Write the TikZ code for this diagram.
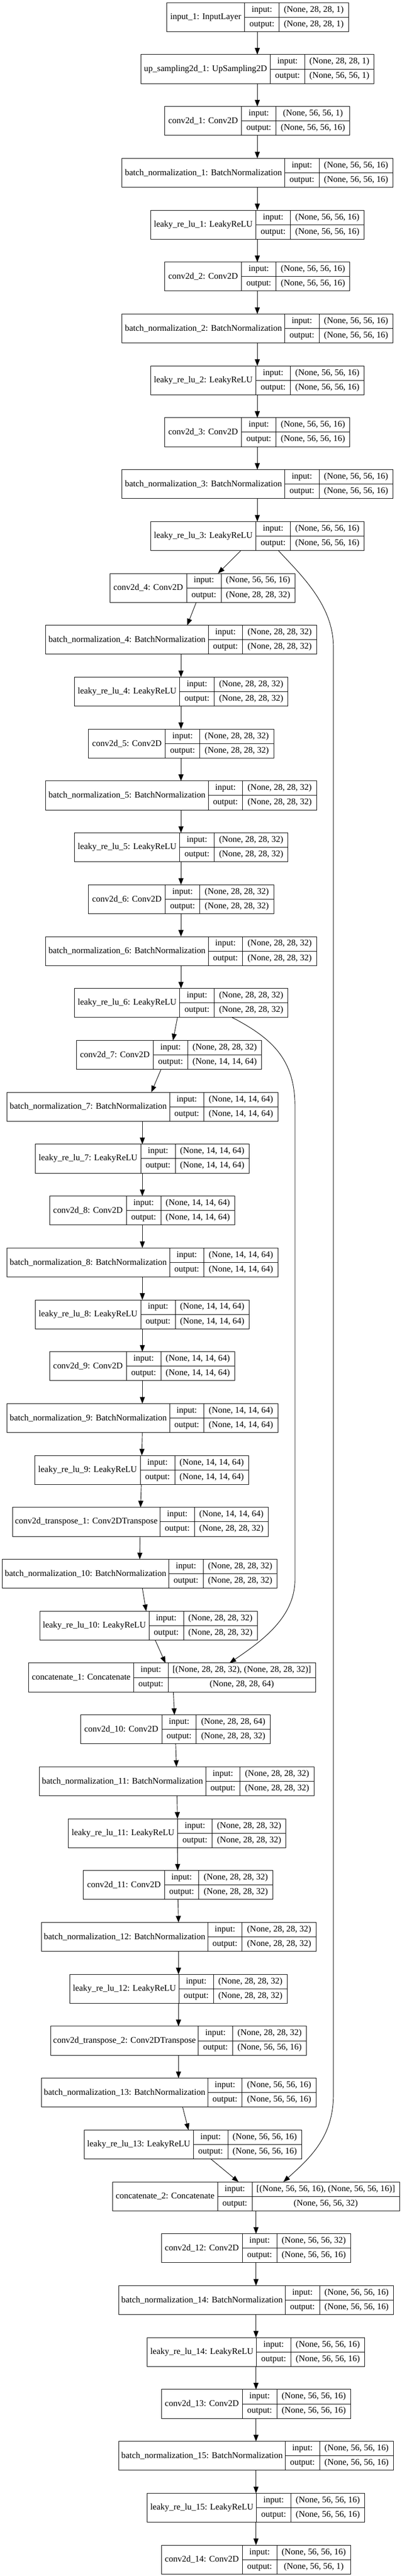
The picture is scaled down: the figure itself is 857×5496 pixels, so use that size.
\documentclass[tikz,border=0pt]{standalone}
\usepackage{fontspec}
\setmainfont{Liberation Serif}
\usetikzlibrary{arrows.meta}

\newcommand{\layerfont}{\fontsize{14pt}{16pt}\selectfont}

\tikzset{
  namecell/.style={draw, line width=0.75pt, anchor=north west, minimum height=46.3pt,
    inner sep=0pt, outer sep=0pt, font=\layerfont},
  iocell/.style={draw, line width=0.75pt, anchor=north west, minimum width=55.1pt,
    minimum height=23.15pt, inner sep=0pt, outer sep=0pt, font=\layerfont,
    text height=9.5pt, text depth=3pt},
  shapecell/.style={iocell, minimum width=0pt},
  edge/.style={-{Triangle[length=10.5pt,width=8pt]}, line width=0.75pt}
}

% one keras layer: name, left x, row, name width, shape width, label, input, output
\newcommand{\layer}[8]{%
  \node[namecell, minimum width={#4*0.75pt}] (#1) at (#2,{5.7+#3*110.7}) {#6};
  \node[iocell] (#1-i) at (#1.north east) {input:};
  \node[iocell] (#1-o) at (#1-i.south west) {output:};
  \node[shapecell, minimum width={#5*0.75pt}] (#1-a) at (#1-i.north east) {#7};
  \node[shapecell, minimum width={#5*0.75pt}] (#1-b) at (#1-o.north east) {#8};
}

\begin{document}
\begin{tikzpicture}[x=0.75pt,y=-0.75pt]
\useasboundingbox (0,0) rectangle (857,5496);

% encoder, 56x56
\layer{inp}{355.6}{0}{166.3}{147.7}{input\_1: InputLayer}{(None, 28, 28, 1)}{(None, 28, 28, 1)}
\layer{up1}{300.3}{1}{276.2}{147.7}{up\_sampling2d\_1: UpSampling2D}{(None, 28, 28, 1)}{(None, 56, 56, 1)}
\layer{conv1}{351.2}{2}{164}{157.5}{conv2d\_1: Conv2D}{(None, 56, 56, 1)}{(None, 56, 56, 16)}
\layer{bn1}{260.4}{3}{346.8}{157.5}{batch\_normalization\_1: BatchNormalization}{(None, 56, 56, 16)}{(None, 56, 56, 16)}
\layer{lrelu1}{321.1}{4}{224.8}{157.5}{leaky\_re\_lu\_1: LeakyReLU}{(None, 56, 56, 16)}{(None, 56, 56, 16)}
\layer{conv2}{351.2}{5}{164}{157.5}{conv2d\_2: Conv2D}{(None, 56, 56, 16)}{(None, 56, 56, 16)}
\layer{bn2}{260.4}{6}{346.8}{157.5}{batch\_normalization\_2: BatchNormalization}{(None, 56, 56, 16)}{(None, 56, 56, 16)}
\layer{lrelu2}{321.1}{7}{224.8}{157.5}{leaky\_re\_lu\_2: LeakyReLU}{(None, 56, 56, 16)}{(None, 56, 56, 16)}
\layer{conv3}{351.2}{8}{164}{157.5}{conv2d\_3: Conv2D}{(None, 56, 56, 16)}{(None, 56, 56, 16)}
\layer{bn3}{260.4}{9}{346.8}{157.5}{batch\_normalization\_3: BatchNormalization}{(None, 56, 56, 16)}{(None, 56, 56, 16)}
\layer{lrelu3}{321.1}{10}{224.8}{157.5}{leaky\_re\_lu\_3: LeakyReLU}{(None, 56, 56, 16)}{(None, 56, 56, 16)}

% 28x28
\layer{conv4}{234.1}{11}{164}{157.5}{conv2d\_4: Conv2D}{(None, 56, 56, 16)}{(None, 28, 28, 32)}
\layer{bn4}{97.4}{12}{346.8}{157.5}{batch\_normalization\_4: BatchNormalization}{(None, 28, 28, 32)}{(None, 28, 28, 32)}
\layer{lrelu4}{158.6}{13}{224.8}{157.5}{leaky\_re\_lu\_4: LeakyReLU}{(None, 28, 28, 32)}{(None, 28, 28, 32)}
\layer{conv5}{188.7}{14}{164}{157.5}{conv2d\_5: Conv2D}{(None, 28, 28, 32)}{(None, 28, 28, 32)}
\layer{bn5}{97.4}{15}{346.8}{157.5}{batch\_normalization\_5: BatchNormalization}{(None, 28, 28, 32)}{(None, 28, 28, 32)}
\layer{lrelu5}{158.6}{16}{224.8}{157.5}{leaky\_re\_lu\_5: LeakyReLU}{(None, 28, 28, 32)}{(None, 28, 28, 32)}
\layer{conv6}{188.7}{17}{164}{157.5}{conv2d\_6: Conv2D}{(None, 28, 28, 32)}{(None, 28, 28, 32)}
\layer{bn6}{97.4}{18}{346.8}{157.5}{batch\_normalization\_6: BatchNormalization}{(None, 28, 28, 32)}{(None, 28, 28, 32)}
\layer{lrelu6}{158.6}{19}{224.8}{157.5}{leaky\_re\_lu\_6: LeakyReLU}{(None, 28, 28, 32)}{(None, 28, 28, 32)}

% 14x14
\layer{conv7}{163}{20}{164}{157.5}{conv2d\_7: Conv2D}{(None, 28, 28, 32)}{(None, 14, 14, 64)}
\layer{bn7}{14.8}{21}{346.8}{157.5}{batch\_normalization\_7: BatchNormalization}{(None, 14, 14, 64)}{(None, 14, 14, 64)}
\layer{lrelu7}{75.5}{22}{224.8}{157.5}{leaky\_re\_lu\_7: LeakyReLU}{(None, 14, 14, 64)}{(None, 14, 14, 64)}
\layer{conv8}{105.6}{23}{164}{157.5}{conv2d\_8: Conv2D}{(None, 14, 14, 64)}{(None, 14, 14, 64)}
\layer{bn8}{14.8}{24}{346.8}{157.5}{batch\_normalization\_8: BatchNormalization}{(None, 14, 14, 64)}{(None, 14, 14, 64)}
\layer{lrelu8}{75.5}{25}{224.8}{157.5}{leaky\_re\_lu\_8: LeakyReLU}{(None, 14, 14, 64)}{(None, 14, 14, 64)}
\layer{conv9}{105.6}{26}{164}{157.5}{conv2d\_9: Conv2D}{(None, 14, 14, 64)}{(None, 14, 14, 64)}
\layer{bn9}{14.8}{27}{346.8}{157.5}{batch\_normalization\_9: BatchNormalization}{(None, 14, 14, 64)}{(None, 14, 14, 64)}
\layer{lrelu9}{74.4}{28}{224.8}{157.5}{leaky\_re\_lu\_9: LeakyReLU}{(None, 14, 14, 64)}{(None, 14, 14, 64)}

% decoder
\layer{ct1}{26.8}{29}{314.5}{157.5}{conv2d\_transpose\_1: Conv2DTranspose}{(None, 14, 14, 64)}{(None, 28, 28, 32)}
\layer{bn10}{4.9}{30}{355}{157.5}{batch\_normalization\_10: BatchNormalization}{(None, 28, 28, 32)}{(None, 28, 28, 32)}
\layer{lrelu10}{84.8}{31}{233}{157.5}{leaky\_re\_lu\_10: LeakyReLU}{(None, 28, 28, 32)}{(None, 28, 28, 32)}
\layer{cat1}{61.3}{32}{223.7}{314.5}{concatenate\_1: Concatenate}{[(None, 28, 28, 32), (None, 28, 28, 32)]}{(None, 28, 28, 64)}
\layer{conv10}{172.3}{33}{172.9}{157.5}{conv2d\_10: Conv2D}{(None, 28, 28, 64)}{(None, 28, 28, 32)}
\layer{bn11}{83.7}{34}{355}{157.5}{batch\_normalization\_11: BatchNormalization}{(None, 28, 28, 32)}{(None, 28, 28, 32)}
\layer{lrelu11}{146}{35}{233}{157.5}{leaky\_re\_lu\_11: LeakyReLU}{(None, 28, 28, 32)}{(None, 28, 28, 32)}
\layer{conv11}{177.8}{36}{172.9}{157.5}{conv2d\_11: Conv2D}{(None, 28, 28, 32)}{(None, 28, 28, 32)}
\layer{bn12}{88.1}{37}{355}{157.5}{batch\_normalization\_12: BatchNormalization}{(None, 28, 28, 32)}{(None, 28, 28, 32)}
\layer{lrelu12}{148.8}{38}{233}{157.5}{leaky\_re\_lu\_12: LeakyReLU}{(None, 28, 28, 32)}{(None, 28, 28, 32)}
\layer{ct2}{108.3}{39}{314.5}{157.5}{conv2d\_transpose\_2: Conv2DTranspose}{(None, 28, 28, 32)}{(None, 56, 56, 16)}
\layer{bn13}{88.1}{40}{355}{157.5}{batch\_normalization\_13: BatchNormalization}{(None, 56, 56, 16)}{(None, 56, 56, 16)}
\layer{lrelu13}{179.4}{41}{233}{157.5}{leaky\_re\_lu\_13: LeakyReLU}{(None, 56, 56, 16)}{(None, 56, 56, 16)}
\layer{cat2}{240.1}{42}{224}{314.5}{concatenate\_2: Concatenate}{[(None, 56, 56, 16), (None, 56, 56, 16)]}{(None, 56, 56, 32)}
\layer{conv12}{344.1}{43}{172.9}{157.5}{conv2d\_12: Conv2D}{(None, 56, 56, 32)}{(None, 56, 56, 16)}
\layer{bn14}{253.3}{44}{355}{157.5}{batch\_normalization\_14: BatchNormalization}{(None, 56, 56, 16)}{(None, 56, 56, 16)}
\layer{lrelu14}{314}{45}{233}{157.5}{leaky\_re\_lu\_14: LeakyReLU}{(None, 56, 56, 16)}{(None, 56, 56, 16)}
\layer{conv13}{344.1}{46}{172.9}{157.5}{conv2d\_13: Conv2D}{(None, 56, 56, 16)}{(None, 56, 56, 16)}
\layer{bn15}{253.3}{47}{355}{157.5}{batch\_normalization\_15: BatchNormalization}{(None, 56, 56, 16)}{(None, 56, 56, 16)}
\layer{lrelu15}{314}{48}{233}{157.5}{leaky\_re\_lu\_15: LeakyReLU}{(None, 56, 56, 16)}{(None, 56, 56, 16)}
\layer{conv14}{344.1}{49}{172.9}{157.5}{conv2d\_14: Conv2D}{(None, 56, 56, 16)}{(None, 56, 56, 1)}

% edges: from, to, x at source, x at target
\foreach \a/\b/\xa/\xb in {inp/up1/548.8/548.8, up1/conv1/548.8/548.8, conv1/bn1/548.8/548.8,
    bn1/lrelu1/548.8/548.8, lrelu1/conv2/548.8/548.8, conv2/bn2/548.8/548.8,
    bn2/lrelu2/548.8/548.8, lrelu2/conv3/548.8/548.8, conv3/bn3/548.8/548.8,
    bn3/lrelu3/548.8/548.8, lrelu3/conv4/514/465, conv4/bn4/418.5/399.3,
    bn4/lrelu4/386/386, lrelu4/conv5/386/386, conv5/bn5/386/386, bn5/lrelu5/386/386,
    lrelu5/conv6/386/386, conv6/bn6/386/386, bn6/lrelu6/386/386,
    lrelu6/conv7/378.5/369, conv7/bn7/343.5/322.7,
    bn7/lrelu7/303.6/303.6, lrelu7/conv8/303.6/303.6, conv8/bn8/303.6/303.6,
    bn8/lrelu8/303.6/303.6, lrelu8/conv9/303.6/303.6, conv9/bn9/303.6/303.6,
    bn9/lrelu9/303.6/302.5, lrelu9/ct1/301.4/299.8, ct1/bn10/298.7/298.1,
    bn10/lrelu10/303.6/311.8, lrelu10/cat1/331/352.8, cat1/conv10/369.8/372,
    conv10/bn11/374.7/376.3, bn11/lrelu11/377.4/378.5, lrelu11/conv11/378.5/379,
    conv11/bn12/379.6/380.7, bn12/lrelu12/380.7/380.7, lrelu12/ct2/380.7/380.7,
    ct2/bn13/380.7/380.7, bn13/lrelu13/389.5/402, lrelu13/cat2/449.6/508.7,
    cat2/conv12/546/546, conv12/bn14/546/546, bn14/lrelu14/546/546,
    lrelu14/conv13/546/546, conv13/bn15/546/546, bn15/lrelu15/546/546,
    lrelu15/conv14/546/546}
  \draw[edge] (\a.south -| \xa,0) -- (\b.north -| \xb,0);

% skip connections
\draw[edge] (lrelu3.south -| 593.5,0) .. controls (640,1225) and (711,1290) .. (711,1380)
  -- (711,4470) .. controls (711,4560) and (660,4605) .. (cat2.north -| 604.5,0);
\draw[edge] (lrelu6.south -| 495,0) .. controls (580,2215) and (629,2260) .. (629,2360)
  -- (629,3370) .. controls (629,3450) and (560,3500) .. (cat1.north -| 489.6,0);
\end{tikzpicture}
\end{document}
